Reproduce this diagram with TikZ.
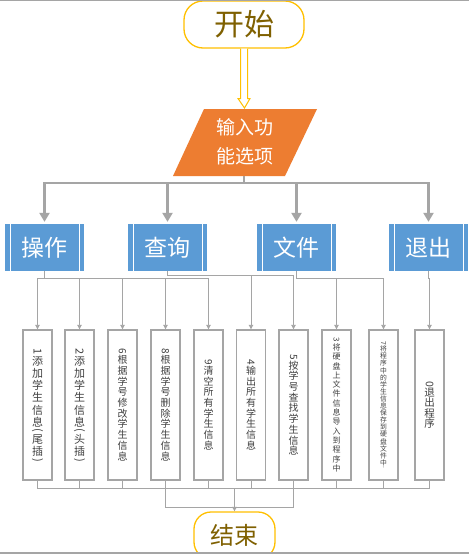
\documentclass[tikz,border=0pt]{standalone}
\usepackage{fontspec}
\usepackage{graphicx}
\setmainfont{Noto Sans CJK SC}
\usetikzlibrary{arrows.meta}
\definecolor{gold}{HTML}{FFC000}
\definecolor{goldtext}{HTML}{7F6000}
\definecolor{orng}{HTML}{ED7D31}
\definecolor{blu}{HTML}{5B9BD5}
\definecolor{gry}{HTML}{A5A5A5}
\definecolor{txt}{HTML}{404040}
\newcommand\vch[1]{\hbox to 1em{\hss\vrule height .88em depth .12em width 0pt\relax#1\hss}}
\newcommand\vrt[1]{\hbox to 1em{\hss\rotatebox{-90}{#1}\hss}}
\ExplSyntaxOn
\NewDocumentCommand\vstack{m}{
  \tl_map_inline:nn {#1} {
    \tl_if_single_token:nTF {##1} { \vch{##1} } { ##1 }
  }
}
\ExplSyntaxOff
\newcommand\vt[3]{\vbox{\fontsize{#1}{#1}\selectfont\offinterlineskip\lineskip=#2\relax\vstack{#3}}}
\begin{document}
\begin{tikzpicture}[x=1pt,y=-1pt,
  term/.style={draw=gold, line width=1.3pt, fill=white, inner sep=0pt, text=goldtext},
  bbox/.style={fill=blu, minimum width=79pt, minimum height=47pt, inner sep=0pt, text=white,
    font=\fontsize{23pt}{23pt}\selectfont,
    path picture={\draw[white,line width=1pt]
      ([xshift=5pt]path picture bounding box.north west) -- ([xshift=5pt]path picture bounding box.south west)
      ([xshift=-5pt]path picture bounding box.north east) -- ([xshift=-5pt]path picture bounding box.south east);}},
  wbox/.style={draw=gry, line width=1.4pt, fill=white, minimum width=29pt, minimum height=150pt, inner sep=0pt, text=txt},
  thk/.style={draw=gry, line width=2.7pt, -{Triangle[width=10pt,length=9pt]}, shorten >=2pt},
  thn/.style={draw=gry, line width=.9pt},
  thnarr/.style={thn, -{Triangle[width=4.5pt,length=4.5pt]}}]
\useasboundingbox (0,0) rectangle (469,555);
\clip (0,0) rectangle (469,555);
\fill[white] (0,0) rectangle (469,555);
% start
\node[term, minimum width=120pt, minimum height=47pt, rounded corners=19pt,
  font=\fontsize{30pt}{30pt}\selectfont] (start) at (244,24.5) {开始};
% input parallelogram
\fill[orng] (204,109) -- (317,109) -- (285,176) -- (173,176) -- cycle;
\node[text=white, align=center, inner sep=0pt, font=\fontsize{19pt}{29pt}\selectfont] (inp) at (244.5,142) {输入功\\能选项};
\coordinate (inpT) at (244.5,108);
\coordinate (inpS) at (244,176);
% hollow arrow
\draw[gold, line width=1pt, fill=white, line join=miter]
  ([xshift=-3.5pt]start.south) -- ([xshift=-3.5pt]start.south |- 0,98.5) -- ([xshift=-6pt]start.south |- 0,98.5)
  -- (inpT) -- ([xshift=6pt]start.south |- 0,98.5) -- ([xshift=3.5pt]start.south |- 0,98.5) -- ([xshift=3.5pt]start.south);
% category boxes
\node[bbox] (op)  at (44.5,247.5) {操作};
\node[bbox] (qry) at (167.5,247.5) {查询};
\node[bbox] (fil) at (296.5,247.5) {文件};
\node[bbox] (ext) at (428.5,247.5) {退出};
\foreach \n in {op,qry,fil,ext} \draw[thk] (inpS) -- ++(0,7) -| (\n.north);
% function boxes
\node[wbox] (w1)  at (37.5,405)  {\vt{11pt}{1.2pt}{{\vrt{1}}添加学生信息{\vrt{(}}尾插{\vrt{)}}}};
\node[wbox] (w2)  at (79.5,405)  {\vt{11pt}{1.2pt}{{\vrt{2}}添加学生信息{\vrt{(}}头插{\vrt{)}}}};
\node[wbox] (w3)  at (122.5,405) {\vt{10pt}{.7pt}{{\vrt{6}}根据学号修改学生信息}};
\node[wbox] (w4)  at (165.5,405) {\vt{10pt}{.7pt}{{\vrt{8}}根据学号删除学生信息}};
\node[wbox] (w5)  at (208.5,405) {\vt{10pt}{.7pt}{{\vrt{9}}清空所有学生信息}};
\node[wbox] (w6)  at (251,405)   {\vt{10pt}{.7pt}{{\vrt{4}}输出所有学生信息}};
\node[wbox] (w7)  at (293.5,405) {\vt{10pt}{.7pt}{{\vrt{5}}按学号查找学生信息}};
\node[wbox] (w8)  at (336.5,405) {\vt{8pt}{1.3pt}{{\vrt{3}}将硬盘上文件信息导入到程序中}};
\node[wbox] (w9)  at (383.5,405) {\vt{6.8pt}{.3pt}{{\vrt{7}}将程序中的学生信息保存到硬盘文件中{\vrt{.}}}};
\node[wbox] (w10) at (429.5,405) {\vt{10.5pt}{0pt}{{\vrt{0}}退出程序}};
% thin connectors top
\foreach \w in {w1,w2,w3,w4,w5} \draw[thnarr] (op.south) -- ++(0,7) -| (\w.north);
\foreach \w in {w6,w7} \draw[thnarr] (qry.south) -- ++(0,4.7) -| (\w.north);
\foreach \w in {w8,w9} \draw[thnarr] (fil.south) -- ++(0,7) -| (\w.north);
\draw[thnarr] (ext.south) -- ++(0,7.5) -| (w10.north);
% end
\node[term, minimum width=81pt, minimum height=47pt, rounded corners=17pt,
  font=\fontsize{24pt}{24pt}\selectfont] (end) at (234.5,535.5) {结束};
% thin connectors bottom
\draw[thn] (w1.south) -- ++(0,7.3) -| (w10.south);
\foreach \w in {w2,w3,w4,w5,w6,w7,w8,w9} \draw[thn] (\w.south) -- ++(0,7.3);
\draw[thn] (w4.south) -- ++(0,26.3) -| (w7.south);
\draw[thnarr] (end.north |- w1.south) ++(0,7.3) -- (end.north);
% frame lines
\fill[white] (0,553.5) rectangle (469,555);
\draw[gry, line width=1.5pt] (0,0.6) -- (469,0.6);
\draw[gry, line width=1.5pt] (0,552.8) -- (469,552.8);
\end{tikzpicture}
\end{document}
